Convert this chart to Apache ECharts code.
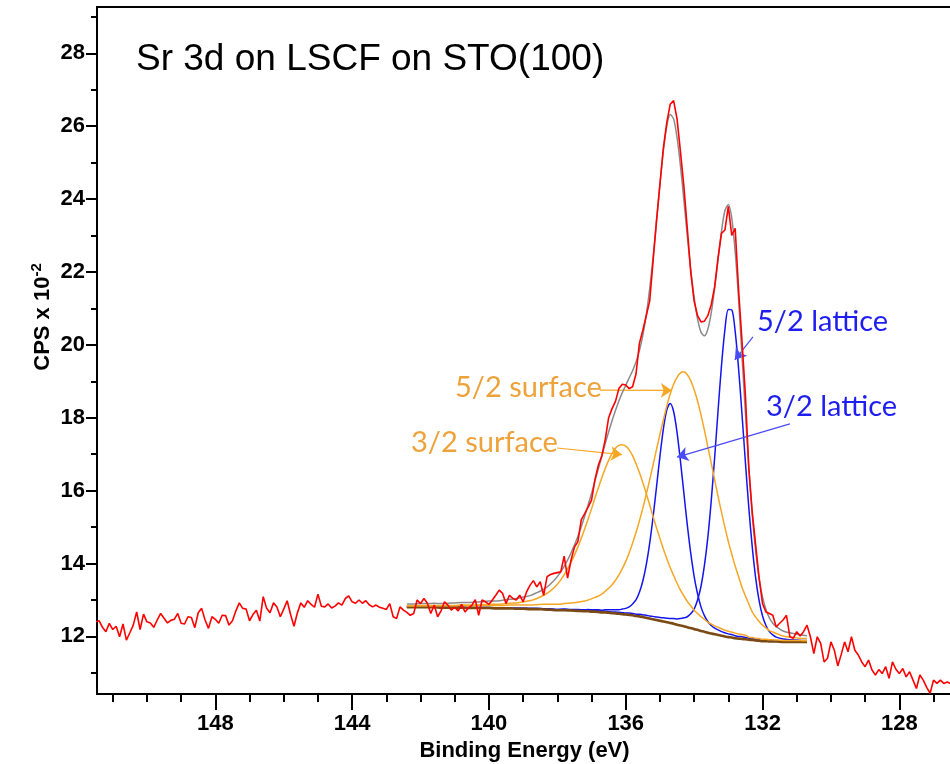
<!DOCTYPE html>
<html>
<head>
<meta charset="utf-8">
<title>Sr 3d on LSCF on STO(100)</title>
<script src="https://cdn.jsdelivr.net/npm/echarts@6/dist/echarts.min.js"></script>
<style>
  html, body { margin: 0; padding: 0; background: #ffffff; }
  #chart { width: 950px; height: 764px; }
</style>
</head>
<body>
<div id="chart"></div>
<script>
// Sr 3d XPS region: measured scan and peak-fit components (CPS x 10^-2 vs binding energy in eV)

// measured scan, [binding energy, counts]
const rawScan = [
  [151.5,12.40],[151.4,12.43],[151.3,12.25],[151.2,12.13],[151.1,12.36],[151.0,12.19],[150.9,12.28],[150.8,11.99],[150.7,12.34],[150.6,11.90],
  [150.5,12.10],[150.4,12.31],[150.3,12.67],[150.2,12.19],[150.1,12.61],[150.0,12.40],[149.9,12.37],[149.8,12.25],[149.7,12.45],[149.6,12.63],
  [149.5,12.50],[149.4,12.37],[149.3,12.44],[149.2,12.47],[149.1,12.63],[149.0,12.36],[148.9,12.34],[148.8,12.54],[148.7,12.52],[148.6,12.24],
  [148.5,12.65],[148.4,12.77],[148.3,12.45],[148.2,12.22],[148.1,12.54],[148.0,12.47],[147.9,12.36],[147.8,12.58],[147.7,12.57],[147.6,12.31],
  [147.5,12.43],[147.4,12.70],[147.3,12.92],[147.2,12.77],[147.1,12.75],[147.0,12.43],[146.9,12.60],[146.8,12.72],[146.7,12.42],[146.6,13.09],
  [146.5,12.77],[146.4,12.65],[146.3,12.92],[146.2,12.81],[146.1,12.54],[146.0,12.75],[145.9,12.98],[145.8,12.60],[145.7,12.28],[145.6,12.65],
  [145.5,12.92],[145.4,12.80],[145.3,12.98],[145.2,12.88],[145.1,12.80],[145.0,13.16],[144.9,12.83],[144.8,12.81],[144.7,12.89],[144.6,12.78],
  [144.5,12.83],[144.4,12.92],[144.3,12.86],[144.2,13.04],[144.1,13.11],[144.0,12.95],[143.9,12.91],[143.8,13.00],[143.7,12.91],[143.6,12.98],
  [143.5,12.87],[143.4,12.81],[143.3,12.86],[143.2,12.80],[143.1,12.77],[143.0,12.74],[142.9,12.90],[142.8,12.54],[142.7,12.49],[142.6,12.81],
  [142.5,12.72],[142.4,12.66],[142.3,12.58],[142.2,12.63],[142.1,13.00],[142.0,12.90],[141.9,13.04],[141.8,12.91],[141.7,12.63],[141.6,12.86],
  [141.5,12.54],[141.4,12.70],[141.3,12.95],[141.2,12.86],[141.1,12.72],[141.0,12.80],[140.9,12.70],[140.8,12.88],[140.7,12.67],[140.6,12.78],
  [140.5,12.85],[140.4,13.01],[140.3,12.58],[140.2,13.00],[140.1,12.95],[140.0,12.88],[139.9,13.00],[139.8,13.13],[139.7,13.27],[139.6,13.18],
  [139.5,12.90],[139.4,13.13],[139.3,13.04],[139.2,13.00],[139.1,13.13],[139.0,12.95],[138.9,13.22],[138.8,13.40],[138.7,13.53],[138.6,13.36],
  [138.5,13.50],[138.4,13.13],[138.3,13.64],[138.2,13.70],[138.1,13.73],[138.0,13.75],[137.9,13.77],[137.8,14.20],[137.7,13.60],[137.6,14.09],
  [137.5,14.45],[137.4,14.60],[137.3,15.20],[137.2,15.37],[137.1,15.55],[137.0,15.74],[136.9,16.30],[136.8,16.70],[136.7,16.95],[136.6,17.40],
  [136.5,18.00],[136.4,18.25],[136.3,18.45],[136.2,18.80],[136.1,18.92],[136.0,18.90],[135.9,18.80],[135.8,18.85],[135.7,19.20],[135.6,20.04],
  [135.5,20.40],[135.4,20.80],[135.3,21.20],[135.2,22.30],[135.1,23.40],[135.0,24.40],[134.9,25.40],[134.8,26.10],[134.7,26.60],[134.6,26.70],
  [134.5,26.20],[134.4,25.30],[134.3,24.35],[134.2,23.20],[134.1,22.00],[134.0,21.20],[133.9,20.80],[133.8,20.63],[133.7,20.65],[133.6,20.80],
  [133.5,21.10],[133.4,21.60],[133.3,22.40],[133.2,23.06],[133.1,23.15],[133.0,23.80],[132.9,23.00],[132.8,23.20],[132.7,21.50],[132.6,20.10],
  [132.5,18.60],[132.4,16.60],[132.3,15.40],[132.2,14.50],[132.1,13.60],[132.0,12.90],[131.9,12.67],[131.8,12.63],[131.7,12.58],[131.6,12.26],
  [131.5,12.36],[131.4,12.45],[131.3,12.58],[131.2,11.99],[131.1,11.95],[131.0,12.13],[130.9,12.01],[130.8,12.13],[130.7,12.31],[130.6,11.99],
  [130.5,11.53],[130.4,11.99],[130.3,11.81],[130.2,11.30],[130.1,11.40],[130.0,11.85],[129.9,11.62],[129.8,11.19],[129.7,11.50],[129.6,11.85],
  [129.5,11.58],[129.4,11.99],[129.3,11.62],[129.2,11.49],[129.1,11.30],[129.0,11.17],[128.9,11.35],[128.8,11.08],[128.7,10.94],[128.6,11.09],
  [128.5,10.98],[128.4,11.17],[128.3,10.85],[128.2,11.30],[128.1,11.10],[128.0,10.98],[127.9,11.12],[127.8,10.89],[127.7,11.03],[127.6,10.80],
  [127.5,10.57],[127.4,10.94],[127.3,10.80],[127.2,10.60],[127.1,10.44],[127.0,10.80],[126.9,10.71],[126.8,10.80],[126.7,10.71],[126.6,10.75],
  [126.5,10.70]
];

// energies at which the fit curves are tabulated
const fitEnergy = [
  142.4,142.2,142.0,141.8,141.6,141.4,141.2,141.0,140.8,140.6,140.4,140.2,140.0,139.8,139.6,139.4,139.2,139.0,138.8,138.6,
  138.4,138.2,138.0,137.8,137.6,137.4,137.2,
  137.1,137.0,136.9,136.8,136.7,136.6,136.5,136.4,136.3,136.2,136.1,136.0,135.9,135.8,135.7,135.6,135.5,135.4,135.3,135.2,
  135.1,135.0,134.9,134.8,134.7,134.6,134.5,134.4,134.3,134.2,134.1,134.0,133.9,133.8,133.7,133.6,133.5,133.4,133.3,133.2,
  133.1,133.0,132.9,132.8,132.7,132.6,132.5,132.4,132.3,132.2,132.1,132.0,131.9,131.8,131.7,131.6,
  131.4,131.2,131.0,130.8,130.7
];

// Shirley background
const background = [
  12.80,12.80,12.80,12.80,12.80,12.79,12.79,12.79,12.79,12.78,12.78,12.78,12.78,12.77,12.77,12.77,12.76,12.76,12.75,12.75,
  12.74,12.73,12.72,12.72,12.71,12.70,12.69,
  12.69,12.68,12.68,12.67,12.66,12.66,12.65,12.64,12.63,12.62,12.61,12.60,12.59,12.58,12.56,12.55,12.53,12.51,12.49,12.47,
  12.45,12.43,12.41,12.39,12.37,12.35,12.32,12.30,12.28,12.25,12.23,12.20,12.18,12.15,12.13,12.10,12.08,12.06,12.04,12.02,
  12.00,11.98,11.97,11.95,11.94,11.93,11.92,11.91,11.90,11.89,11.88,11.87,11.87,11.86,11.86,11.86,
  11.85,11.85,11.85,11.85,11.85
];

// 3d3/2 surface component
const surface32 = [
  12.84,12.84,12.85,12.85,12.85,12.85,12.85,12.85,12.86,12.86,12.86,12.87,12.88,12.88,12.89,12.91,12.92,12.95,12.98,13.04,
  13.13,13.25,13.43,13.69,14.03,14.45,14.95,
  15.22,15.50,15.80,16.08,16.35,16.61,16.83,17.02,17.16,17.24,17.26,17.22,17.12,16.96,16.74,16.50,16.22,15.92,15.61,15.29,
  14.98,14.69,14.40,14.14,13.89,13.67,13.46,13.27,13.11,12.96,12.84,12.72,12.63,12.54,12.47,12.39,12.34,12.29,12.25,12.21,
  12.17,12.14,12.12,12.09,12.07,12.05,12.03,11.98,11.97,11.95,11.94,11.92,11.92,11.91,11.91,11.90,
  11.89,11.89,11.89,11.88,11.88
];

// 3d5/2 surface component
const surface52 = [
  12.84,12.84,12.84,12.84,12.84,12.84,12.84,12.84,12.85,12.84,12.84,12.85,12.85,12.85,12.85,12.86,12.86,12.86,12.86,12.87,
  12.88,12.88,12.88,12.90,12.92,12.94,12.97,
  13.00,13.03,13.07,13.11,13.16,13.24,13.32,13.42,13.54,13.69,13.86,14.06,14.29,14.56,14.85,15.17,15.52,15.90,16.29,16.71,
  17.13,17.54,17.94,18.32,18.65,18.92,19.11,19.23,19.26,19.18,19.02,18.77,18.46,18.08,17.66,17.21,16.76,16.30,15.84,15.41,
  14.99,14.60,14.26,13.93,13.64,13.35,13.11,12.89,12.67,12.53,12.41,12.31,12.23,12.16,12.12,12.08,
  12.01,11.98,11.96,11.94,11.94
];

// 3d3/2 lattice component
const lattice32 = [
  12.81,12.81,12.81,12.81,12.81,12.80,12.80,12.80,12.80,12.79,12.79,12.79,12.79,12.78,12.78,12.78,12.77,12.77,12.77,12.77,
  12.76,12.75,12.74,12.75,12.74,12.74,12.73,
  12.74,12.73,12.73,12.73,12.72,12.73,12.73,12.73,12.73,12.73,12.75,12.77,12.81,12.89,13.00,13.21,13.52,13.96,14.55,15.28,
  16.10,16.94,17.69,18.21,18.39,18.17,17.60,16.81,15.93,15.06,14.29,13.65,13.17,12.81,12.57,12.41,12.30,12.23,12.18,12.13,
  12.10,12.07,12.05,12.02,12.00,11.99,11.97,11.95,11.94,11.92,11.91,11.90,11.90,11.88,11.88,11.88,
  11.87,11.87,11.86,11.86,11.86
];

// 3d5/2 lattice component
const lattice52 = [
  12.81,12.81,12.81,12.81,12.81,12.80,12.80,12.80,12.80,12.79,12.79,12.79,12.79,12.78,12.78,12.78,12.77,12.77,12.76,12.76,
  12.75,12.75,12.74,12.74,12.73,12.72,12.71,
  12.71,12.70,12.71,12.70,12.69,12.69,12.68,12.67,12.67,12.66,12.65,12.64,12.64,12.63,12.61,12.61,12.59,12.58,12.56,12.55,
  12.53,12.52,12.51,12.50,12.49,12.49,12.48,12.49,12.51,12.54,12.62,12.75,13.00,13.37,13.94,14.71,15.72,16.91,18.20,19.43,
  20.42,20.97,20.96,20.37,19.35,18.09,16.77,15.52,14.45,13.60,12.98,12.56,12.30,12.13,12.04,11.98,
  11.93,11.91,11.90,11.89,11.89
];

// fit envelope
const envelope = [
  12.89,12.89,12.90,12.90,12.91,12.90,12.91,12.92,12.93,12.93,12.94,12.95,12.97,12.97,12.99,13.02,13.04,13.08,13.12,13.20,
  13.29,13.44,13.64,13.92,14.29,14.74,15.30,
  15.61,15.92,16.27,16.60,16.94,17.29,17.61,17.92,18.20,18.46,18.69,18.89,19.09,19.29,19.53,19.84,20.26,20.82,21.54,22.41,
  23.40,24.41,25.32,26.00,26.32,26.20,25.69,24.91,23.97,22.99,22.08,21.30,20.71,20.35,20.25,20.43,20.88,21.55,22.34,23.12,
  23.68,23.85,23.48,22.56,21.25,19.69,18.13,16.61,15.32,14.33,13.59,13.08,12.74,12.51,12.36,12.27,
  12.15,12.10,12.06,12.03,12.02
];

// axis ticks
const xMajorTicks = [148, 144, 140, 136, 132, 128];
const xMinorTicks = [151, 150, 149, 147, 146, 145, 143, 142, 141, 139, 138, 137, 135, 134, 133, 131, 130, 129, 127];
const yMajorTicks = [12, 14, 16, 18, 20, 22, 24, 26, 28];
const yMinorTicks = [11, 13, 15, 17, 19, 21, 23, 25, 27, 29];

// component labels and their arrows: [label, arrow start, arrow end]
const surfaceArrows = [
  ['5/2 surface', [136.75, 18.76], [134.65, 18.75]],
  ['3/2 surface', [138.01, 17.17], [136.11, 16.99]]
];
const latticeArrows = [
  ['5/2 lattice', [132.28, 20.22], [132.81, 19.59]],
  ['3/2 lattice', [131.20, 17.83], [134.50, 16.92]]
];

const ORANGE = '#f5a623';
const ORANGE_TEXT = '#eea23a';
const BLUE = '#1414f0';
const BLUE_TEXT = '#1e1ef0';
const AXIS_FONT = '"Liberation Sans", Arial, Helvetica, sans-serif';
const NOTE_FONT = 'Lato, "Open Sans", sans-serif';

const X_MIN = 126.46, X_MAX = 151.46;
const Y_MIN = 10.42, Y_MAX = 29.27;

function fitSeries(values) {
  return fitEnergy.map((e, i) => [e, values[i]]);
}

function xAxisBase(extra) {
  return Object.assign({
    type: 'value', min: X_MIN, max: X_MAX, inverse: true, position: 'bottom',
    splitLine: { show: false }
  }, extra);
}
function yAxisBase(extra) {
  return Object.assign({
    type: 'value', min: Y_MIN, max: Y_MAX, position: 'left',
    splitLine: { show: false }
  }, extra);
}

const tickLabelStyle = { color: '#000', fontSize: 22, fontWeight: 'bold', fontFamily: AXIS_FONT };

// arrows from each label to its component curve
const arrowLine = (list, color) => ({
  silent: true,
  symbol: ['none', 'arrow'],
  symbolSize: 11,
  label: { show: false },
  emphasis: { disabled: true },
  lineStyle: { color: color, width: 1.2, type: 'solid' },
  itemStyle: { color: color },
  data: list.map(a => [{ coord: a[1] }, { coord: a[2] }])
});

const chart = echarts.init(document.getElementById('chart'), null, { renderer: 'canvas' });

chart.setOption({
  animation: false,
  backgroundColor: '#ffffff',
  grid: {
    left: 97, top: 7, width: 855, height: 687,
    containLabel: false, outerBoundsMode: 'none',
    show: true, borderColor: '#000', borderWidth: 2, backgroundColor: 'transparent'
  },
  xAxis: [
    xAxisBase({
      axisLine: { show: true, onZero: false, lineStyle: { color: '#000', width: 2 } },
      axisTick: { show: true, length: 16, customValues: xMajorTicks, lineStyle: { color: '#000', width: 2 } },
      axisLabel: Object.assign({ margin: 19, customValues: xMajorTicks }, tickLabelStyle),
      name: 'Binding Energy (eV)', nameLocation: 'middle', nameGap: 42,
      nameTextStyle: { color: '#000', fontSize: 22, fontWeight: 'bold', fontFamily: AXIS_FONT }
    }),
    xAxisBase({
      axisLine: { show: false, onZero: false },
      axisTick: { show: true, length: 8, customValues: xMinorTicks, lineStyle: { color: '#000', width: 2 } },
      axisLabel: { show: false }
    })
  ],
  yAxis: [
    yAxisBase({
      axisLine: { show: true, onZero: false, lineStyle: { color: '#000', width: 2 } },
      axisTick: { show: true, length: 11, customValues: yMajorTicks, lineStyle: { color: '#000', width: 2 } },
      axisLabel: Object.assign({ margin: 12, customValues: yMajorTicks }, tickLabelStyle)
    }),
    yAxisBase({
      axisLine: { show: false, onZero: false },
      axisTick: { show: true, length: 6, customValues: yMinorTicks, lineStyle: { color: '#000', width: 2 } },
      axisLabel: { show: false }
    })
  ],
  series: [
    {
      name: '3/2 lattice', type: 'line', data: fitSeries(lattice32), showSymbol: false, smooth: 0.3,
      lineStyle: { color: BLUE, width: 1.5 }, z: 2
    },
    {
      name: '5/2 lattice', type: 'line', data: fitSeries(lattice52), showSymbol: false, smooth: 0.3,
      lineStyle: { color: BLUE, width: 1.5 }, z: 2,
      markLine: arrowLine(latticeArrows, '#4b4bf5')
    },
    {
      name: 'Background', type: 'line', data: fitSeries(background), showSymbol: false, smooth: 0.3,
      lineStyle: { color: '#7a4a14', width: 2.6 }, z: 3
    },
    {
      name: '3/2 surface', type: 'line', data: fitSeries(surface32), showSymbol: false, smooth: 0.3,
      lineStyle: { color: ORANGE, width: 1.5 }, z: 4
    },
    {
      name: '5/2 surface', type: 'line', data: fitSeries(surface52), showSymbol: false, smooth: 0.3,
      lineStyle: { color: ORANGE, width: 1.5 }, z: 4,
      markLine: arrowLine(surfaceArrows, ORANGE)
    },
    {
      name: 'Envelope', type: 'line', data: fitSeries(envelope), showSymbol: false, smooth: 0.3,
      lineStyle: { color: '#8a8a8a', width: 1.5 }, z: 5
    },
    {
      name: 'Sr 3d', type: 'line', data: rawScan, showSymbol: false,
      lineStyle: { color: '#ff0000', width: 1.6 }, z: 6
    }
  ],
  graphic: [
    {
      type: 'text', x: 136, y: 60, z: 10,
      style: { text: 'Sr 3d on LSCF on STO(100)', fill: '#000', font: '37px ' + AXIS_FONT, verticalAlign: 'middle' }
    },
    {
      type: 'text', x: 43, y: 317, rotation: Math.PI / 2, z: 10,
      style: {
        text: '{m|CPS x 10}{s|-2}', align: 'center', verticalAlign: 'middle',
        rich: {
          m: { fill: '#000', fontSize: 22, fontWeight: 'bold', fontFamily: AXIS_FONT },
          s: { fill: '#000', fontSize: 15, fontWeight: 'bold', fontFamily: AXIS_FONT, padding: [0, 0, 12, 0] }
        }
      }
    },
    {
      type: 'text', x: 455, y: 388, z: 10,
      style: { text: surfaceArrows[0][0], fill: ORANGE_TEXT, font: '29px ' + NOTE_FONT, verticalAlign: 'middle' }
    },
    {
      type: 'text', x: 411, y: 443, z: 10,
      style: { text: surfaceArrows[1][0], fill: ORANGE_TEXT, font: '29px ' + NOTE_FONT, verticalAlign: 'middle' }
    },
    {
      type: 'text', x: 757, y: 322, z: 10,
      style: { text: latticeArrows[0][0], fill: BLUE_TEXT, font: '29px ' + NOTE_FONT, verticalAlign: 'middle' }
    },
    {
      type: 'text', x: 766, y: 407, z: 10,
      style: { text: latticeArrows[1][0], fill: BLUE_TEXT, font: '29px ' + NOTE_FONT, verticalAlign: 'middle' }
    }
  ]
});
</script>
</body>
</html>
